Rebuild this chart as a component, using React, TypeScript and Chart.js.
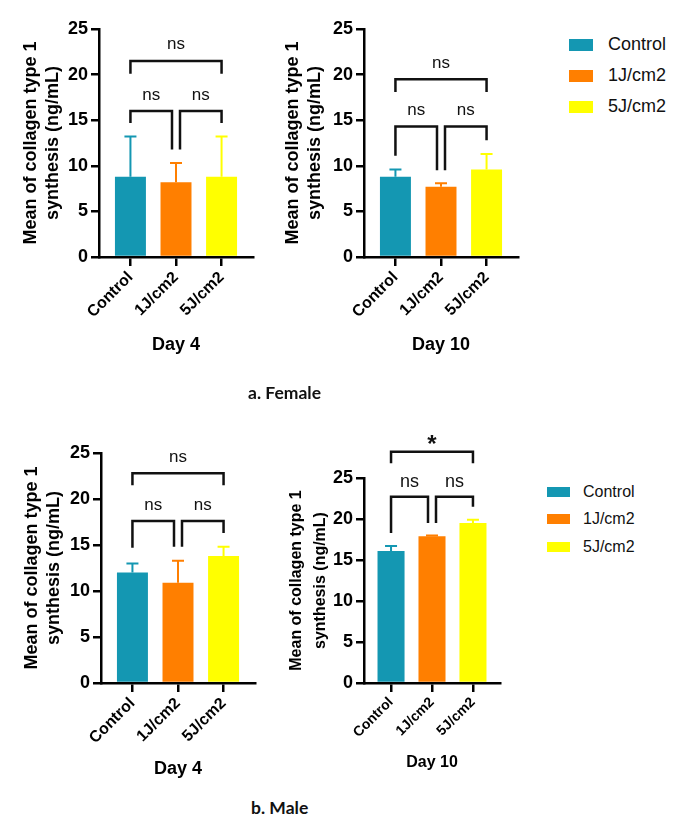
import React, { useEffect, useRef } from 'react';
import { Chart, registerables } from 'chart.js';
Chart.register(...registerables);

// ---------- data ----------
const CATEGORIES = ['Control', '1J/cm2', '5J/cm2'];
const COLORS = ['#1497B2', '#FF7F00', '#FFFF00'];
const Y_TITLE = ['Mean of collagen type 1', 'synthesis (ng/mL)'];

const FEMALE_DAY4_MEAN = [8.8, 8.2, 8.8];
const FEMALE_DAY4_SD = [4.4, 2.1, 4.4];
const FEMALE_DAY10_MEAN = [8.8, 7.7, 9.6];
const FEMALE_DAY10_SD = [0.8, 0.4, 1.7];
const MALE_DAY4_MEAN = [12.0, 10.9, 13.8];
const MALE_DAY4_SD = [1.0, 2.4, 1.0];
const MALE_DAY10_MEAN = [16.1, 17.9, 19.5];
const MALE_DAY10_SD = [0.6, 0.1, 0.4];

type Bracket = { from: number; to: number; y: number; yFrom: number; yTo: number; label: string };

const FEMALE_DAY4_SIG: Bracket[] = [
  { from: 0, to: 2, y: 21.5, yFrom: 20.1, yTo: 20.1, label: 'ns' },
  { from: 0, to: 1, y: 16.0, yFrom: 14.7, yTo: 11.8, label: 'ns' },
  { from: 1, to: 2, y: 16.0, yFrom: 11.8, yTo: 14.7, label: 'ns' },
];
const FEMALE_DAY10_SIG: Bracket[] = [
  { from: 0, to: 2, y: 19.5, yFrom: 18.1, yTo: 18.1, label: 'ns' },
  { from: 0, to: 1, y: 14.3, yFrom: 11.1, yTo: 9.5, label: 'ns' },
  { from: 1, to: 2, y: 14.3, yFrom: 9.5, yTo: 12.8, label: 'ns' },
];
const MALE_DAY4_SIG: Bracket[] = [
  { from: 0, to: 2, y: 22.8, yFrom: 21.5, yTo: 21.5, label: 'ns' },
  { from: 0, to: 1, y: 17.6, yFrom: 14.7, yTo: 14.8, label: 'ns' },
  { from: 1, to: 2, y: 17.6, yFrom: 14.8, yTo: 16.3, label: 'ns' },
];
const MALE_DAY10_SIG: Bracket[] = [
  { from: 0, to: 2, y: 28.2, yFrom: 26.8, yTo: 26.8, label: '*' },
  { from: 0, to: 1, y: 22.7, yFrom: 18.3, yTo: 19.5, label: 'ns' },
  { from: 1, to: 2, y: 22.7, yFrom: 19.5, yTo: 21.5, label: 'ns' },
];

const FONT = "'Liberation Sans', Arial, Helvetica, sans-serif";

interface Panel {
  key: string;
  left: number; top: number; width: number; height: number;
  area: { left: number; top: number; right: number; bottom: number };
  mean: number[]; sd: number[]; sig: Bracket[]; day: string;
  xPad: number; barPct: number;
  yTitleCenter: number; yTitleSize: number; yTitleLH: number;
  xTitleCenter: number; xTitleSize: number;
  xTickSize: number; yTickSize: number;
  nsSize: number; nsOffset: number;
}

const PANELS: Panel[] = [
  {
    key: 'f4', left: 0, top: 0, width: 260, height: 360,
    area: { left: 99, top: 29, right: 253, bottom: 257 },
    mean: FEMALE_DAY4_MEAN, sd: FEMALE_DAY4_SD, sig: FEMALE_DAY4_SIG, day: 'Day 4',
    xPad: 0.69, barPct: 0.68,
    yTitleCenter: 31, yTitleSize: 18, yTitleLH: 1.22,
    xTitleCenter: 345, xTitleSize: 18, xTickSize: 16, yTickSize: 18,
    nsSize: 17, nsOffset: 16,
  },
  {
    key: 'f10', left: 260, top: 0, width: 260, height: 360,
    area: { left: 104, top: 29, right: 258, bottom: 257 },
    mean: FEMALE_DAY10_MEAN, sd: FEMALE_DAY10_SD, sig: FEMALE_DAY10_SIG, day: 'Day 10',
    xPad: 0.69, barPct: 0.68,
    yTitleCenter: 33, yTitleSize: 18, yTitleLH: 1.22,
    xTitleCenter: 345, xTitleSize: 18, xTickSize: 16, yTickSize: 18,
    nsSize: 17, nsOffset: 16,
  },
  {
    key: 'm4', left: 0, top: 380, width: 260, height: 410,
    area: { left: 101, top: 73, right: 255, bottom: 303 },
    mean: MALE_DAY4_MEAN, sd: MALE_DAY4_SD, sig: MALE_DAY4_SIG, day: 'Day 4',
    xPad: 0.69, barPct: 0.68,
    yTitleCenter: 32, yTitleSize: 18, yTitleLH: 1.22,
    xTitleCenter: 389, xTitleSize: 18, xTickSize: 16, yTickSize: 18,
    nsSize: 17, nsOffset: 16,
  },
  {
    key: 'm10', left: 260, top: 380, width: 260, height: 410,
    area: { left: 104, top: 98, right: 240, bottom: 303 },
    mean: MALE_DAY10_MEAN, sd: MALE_DAY10_SD, sig: MALE_DAY10_SIG, day: 'Day 10',
    xPad: 0.66, barPct: 0.66,
    yTitleCenter: 37, yTitleSize: 16, yTitleLH: 1.45,
    xTitleCenter: 383, xTitleSize: 16, xTickSize: 14, yTickSize: 18,
    nsSize: 18, nsOffset: 15,
  },
];

function makeAnnotPlugin(p: Panel) {
  return {
    id: 'annot_' + p.key,
    afterDatasetsDraw(chart: any) {
      const { ctx, scales } = chart;
      const xs = scales.x;
      const ys = scales.y;
      const meta = chart.getDatasetMeta(0);
      ctx.save();
      // error bars (upper only)
      meta.data.forEach((bar: any, i: number) => {
        const xp = bar.x;
        const y0 = ys.getPixelForValue(p.mean[i]);
        const y1 = ys.getPixelForValue(p.mean[i] + p.sd[i]);
        ctx.strokeStyle = COLORS[i];
        ctx.lineWidth = 2;
        ctx.beginPath();
        ctx.moveTo(xp, y0);
        ctx.lineTo(xp, y1);
        ctx.moveTo(xp - 6, y1);
        ctx.lineTo(xp + 6, y1);
        ctx.stroke();
      });
      // significance brackets
      const mid = (CATEGORIES.length - 1) / 2;
      p.sig.forEach((b) => {
        let x1 = xs.getPixelForValue(b.from);
        let x2 = xs.getPixelForValue(b.to);
        if (b.from === mid) x1 += 4;
        if (b.to === mid) x2 -= 4;
        const yt = ys.getPixelForValue(b.y);
        const ya = ys.getPixelForValue(b.yFrom);
        const yb = ys.getPixelForValue(b.yTo);
        ctx.strokeStyle = '#111';
        ctx.lineWidth = 2.5;
        ctx.lineJoin = 'miter';
        ctx.lineCap = 'butt';
        ctx.beginPath();
        ctx.moveTo(x1, ya);
        ctx.lineTo(x1, yt);
        ctx.lineTo(x2, yt);
        ctx.lineTo(x2, yb);
        ctx.stroke();
        ctx.fillStyle = '#111';
        ctx.textAlign = 'center';
        ctx.textBaseline = 'alphabetic';
        if (b.label === '*') {
          const s = 24;
          ctx.font = `bold ${s}px ${FONT}`;
          ctx.fillText(b.label, (x1 + x2) / 2, yt - 14 + 0.58 * s);
        } else {
          const s = p.nsSize;
          ctx.font = `${s}px ${FONT}`;
          ctx.fillText(b.label, (x1 + x2) / 2, yt - p.nsOffset + 0.26 * s);
        }
      });
      ctx.restore();
    },
  };
}

function PanelChart({ p }: { p: Panel }) {
  const ref = useRef<HTMLCanvasElement | null>(null);
  useEffect(() => {
    const canvas = ref.current;
    if (!canvas) return;
    const yLH = p.yTitleSize * p.yTitleLH;
    const xLH = p.xTitleSize * 1.2;
    const chart = new Chart(canvas, {
      type: 'bar',
      data: {
        datasets: [
          {
            data: p.mean.map((v, i) => ({ x: i, y: v })),
            backgroundColor: COLORS,
            borderWidth: 0,
            barPercentage: p.barPct,
            categoryPercentage: 1,
          } as any,
        ],
      },
      options: {
        responsive: false,
        animation: false,
        events: [],
        layout: { padding: { top: p.area.top, right: p.width - p.area.right, left: 0, bottom: 0 } },
        plugins: { legend: { display: false }, tooltip: { enabled: false } },
        scales: {
          x: {
            type: 'linear',
            min: -p.xPad,
            max: CATEGORIES.length - 1 + p.xPad,
            offset: false,
            afterBuildTicks: (s: any) => {
              s.ticks = CATEGORIES.map((_, i) => ({ value: i }));
            },
            afterFit: (s: any) => {
              s.height = p.height - p.area.bottom;
            },
            ticks: {
              autoSkip: false,
              minRotation: 45,
              maxRotation: 45,
              padding: 2,
              color: '#000',
              font: { family: FONT, size: p.xTickSize, weight: 'bold' },
              callback: (v: any) => CATEGORIES[v] ?? '',
            },
            grid: { offset: false, drawOnChartArea: false, drawTicks: true, tickLength: 9, color: '#000', lineWidth: 2.5 },
            border: { display: true, color: '#000', width: 2.5 },
            title: {
              display: true,
              text: p.day,
              color: '#000',
              font: { family: FONT, size: p.xTitleSize, weight: 'bold', lineHeight: 1.2 },
              padding: { top: 0, bottom: p.height - p.xTitleCenter - xLH / 2 },
            },
          } as any,
          y: {
            type: 'linear',
            min: 0,
            max: 25,
            afterFit: (s: any) => {
              s.width = p.area.left;
            },
            ticks: {
              stepSize: 5,
              padding: 3,
              color: '#000',
              font: { family: FONT, size: p.yTickSize, weight: 'bold' },
            },
            grid: { drawOnChartArea: false, drawTicks: true, tickLength: 8, color: '#000', lineWidth: 2.5 },
            border: { display: true, color: '#000', width: 2.5 },
            title: {
              display: true,
              text: Y_TITLE,
              color: '#000',
              font: { family: FONT, size: p.yTitleSize, weight: 'bold', lineHeight: p.yTitleLH },
              padding: { top: p.yTitleCenter - yLH / 2, bottom: 0 },
            },
          } as any,
        },
      },
      plugins: [makeAnnotPlugin(p)],
    } as any);
    return () => chart.destroy();
  }, [p]);
  return (
    <canvas
      ref={ref}
      width={p.width}
      height={p.height}
      style={{ position: 'absolute', left: p.left, top: p.top, width: p.width, height: p.height }}
    />
  );
}

function Legend({ left, textLeft, rows, boxW, boxH, fontSize }: { left: number; textLeft: number; rows: number[]; boxW: number; boxH: number; fontSize: number }) {
  return (
    <>
      {CATEGORIES.map((c, i) => (
        <React.Fragment key={c}>
          <div style={{ position: 'absolute', left, top: rows[i] - boxH / 2, width: boxW, height: boxH, background: COLORS[i] }} />
          <div
            style={{
              position: 'absolute', left: textLeft, top: rows[i] - fontSize * 0.6, height: fontSize * 1.2,
              lineHeight: `${fontSize * 1.2}px`, fontSize, fontFamily: FONT, color: '#111', whiteSpace: 'nowrap',
            }}
          >
            {c}
          </div>
        </React.Fragment>
      ))}
    </>
  );
}

export default function App() {
  const capStyle: React.CSSProperties = {
    position: 'absolute', fontFamily: "Lato, 'Open Sans', sans-serif", fontWeight: 700, fontSize: 17.5,
    lineHeight: '20px', color: '#111', whiteSpace: 'nowrap',
  };
  return (
    <div style={{ position: 'absolute', left: 0, top: 0, width: 685, height: 818, background: '#fff', overflow: 'hidden' }}>
      {PANELS.map((p) => (
        <PanelChart key={p.key} p={p} />
      ))}
      <Legend left={569} textLeft={608} rows={[45, 76, 107]} boxW={24} boxH={12} fontSize={18} />
      <Legend left={547} textLeft={583} rows={[492, 519, 547]} boxW={23} boxH={10} fontSize={16} />
      <div style={{ ...capStyle, left: 248, top: 383 }}>a. Female</div>
      <div style={{ ...capStyle, left: 251, top: 798 }}>b. Male</div>
    </div>
  );
}
